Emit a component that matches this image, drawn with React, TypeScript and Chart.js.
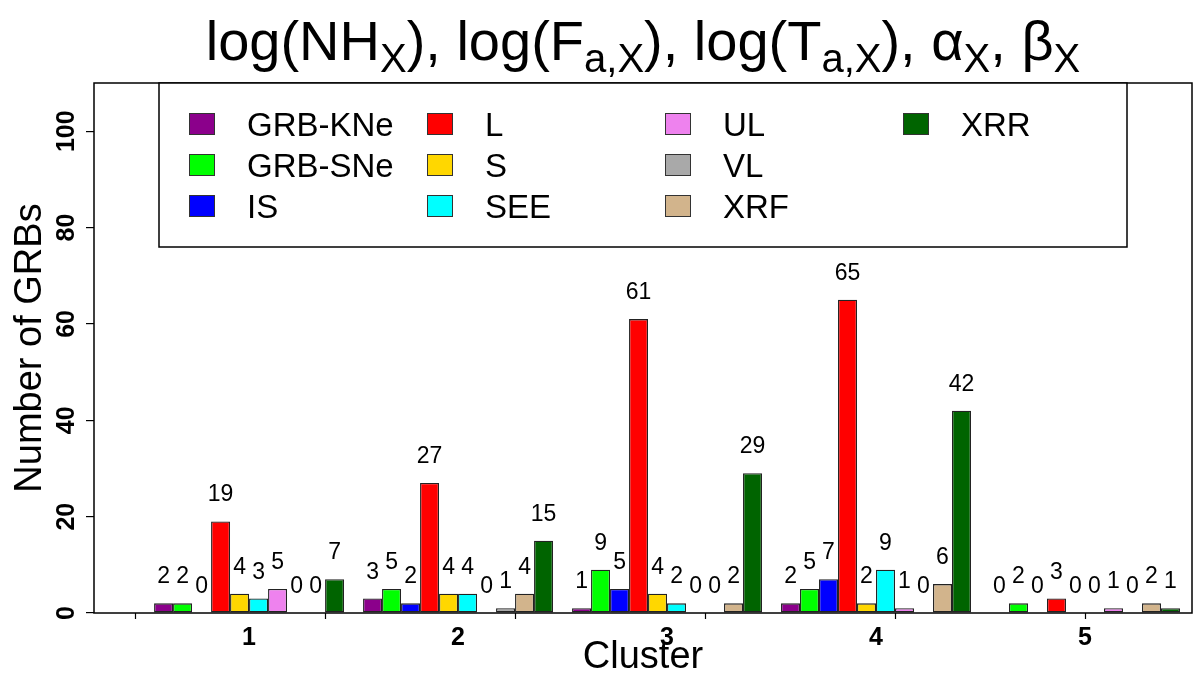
import { useEffect, useRef } from "react";
import { Chart, registerables } from "chart.js";

Chart.register(...registerables);

const FONT = '"Liberation Sans", Arial, Helvetica, sans-serif';

// ---- data ----
const clusters = [1, 2, 3, 4, 5];
const clusterTickLabels = ["1", "2", "3", "4", "5"];
const seriesNames = ["GRB-KNe", "GRB-SNe", "IS", "L", "S", "SEE", "UL", "VL", "XRF", "XRR"];
const seriesColors = ["#8B008B", "#00FF00", "#0000FF", "#FF0000", "#FFD700", "#00FFFF", "#EE82EE", "#A9A9A9", "#D2B48C", "#006400"];

const grbKNe = [2, 3, 1, 2, 0];
const grbSNe = [2, 5, 9, 5, 2];
const isVals = [0, 2, 5, 7, 0];
const lVals = [19, 27, 61, 65, 3];
const sVals = [4, 4, 4, 2, 0];
const seeVals = [3, 4, 2, 9, 0];
const ulVals = [5, 0, 0, 1, 1];
const vlVals = [0, 1, 0, 0, 0];
const xrfVals = [0, 4, 2, 6, 2];
const xrrVals = [7, 15, 29, 42, 1];
const seriesValues = [grbKNe, grbSNe, isVals, lVals, sVals, seeVals, ulVals, vlVals, xrfVals, xrrVals];

const yTicks = [0, 20, 40, 60, 80, 100];
const yMin = 0;
const yMax = 110;
const xMin = 0.258;
const xMax = 5.512;
// R-style axis tick marks in bar units (11 bar units per cluster, cluster 1 centred at 6)
const xTickMarksBarUnits = [0, 10, 20, 30, 40, 50];
const barUnitsPerCluster = 11;
const firstClusterCentreBarUnits = 6;

const titleRuns = [
  { t: "log(NH", sub: false },
  { t: "X", sub: true },
  { t: "), log(F", sub: false },
  { t: "a,X", sub: true },
  { t: "), log(T", sub: false },
  { t: "a,X", sub: true },
  { t: "), \u03B1", sub: false },
  { t: "X", sub: true },
  { t: ", \u03B2", sub: false },
  { t: "X", sub: true },
];

const overlay = {
  id: "overlay",
  afterDraw(chart: any) {
    const ctx = chart.ctx as CanvasRenderingContext2D;
    const area = chart.chartArea;
    const xs = chart.scales.x;
    const ys = chart.scales.y;
    ctx.save();
    ctx.fillStyle = "#000";
    ctx.strokeStyle = "#000";

    // value labels
    ctx.font = `23px ${FONT}`;
    ctx.textAlign = "center";
    ctx.textBaseline = "alphabetic";
    chart.data.datasets.forEach((ds: any, d: number) => {
      const meta = chart.getDatasetMeta(d);
      meta.data.forEach((el: any, i: number) => {
        ctx.fillText(String(ds.data[i].y), el.x, el.y - 20);
      });
    });

    // plot box
    ctx.lineWidth = 1.5;
    ctx.strokeRect(area.left, area.top, area.right - area.left, area.bottom - area.top);

    // x tick marks
    ctx.lineWidth = 1.2;
    xTickMarksBarUnits.forEach((b) => {
      const v = 1 + (b - firstClusterCentreBarUnits) / barUnitsPerCluster;
      const px = Math.round(xs.getPixelForValue(v)) + 0.5;
      ctx.beginPath();
      ctx.moveTo(px, area.bottom);
      ctx.lineTo(px, area.bottom + 6);
      ctx.stroke();
    });

    // x tick labels
    ctx.font = `bold 25px ${FONT}`;
    ctx.textAlign = "center";
    xs.ticks.forEach((t: any, i: number) => {
      ctx.fillText(clusterTickLabels[i], xs.getPixelForValue(t.value), 645);
    });

    // y tick labels (rotated)
    ys.ticks.forEach((t: any) => {
      const py = ys.getPixelForValue(t.value);
      ctx.save();
      ctx.translate(74, py);
      ctx.rotate(-Math.PI / 2);
      ctx.textAlign = "center";
      ctx.fillText(String(t.value), 0, 0);
      ctx.restore();
    });

    // axis titles
    ctx.font = `38px ${FONT}`;
    ctx.textAlign = "center";
    ctx.fillText("Cluster", (area.left + area.right) / 2, 668);
    ctx.save();
    ctx.translate(41, (area.top + area.bottom) / 2);
    ctx.rotate(-Math.PI / 2);
    ctx.fillText("Number of GRBs", 0, 0);
    ctx.restore();

    // title with subscripts
    const mainSize = 56;
    const subSize = 40;
    let total = 0;
    titleRuns.forEach((r) => {
      ctx.font = `${r.sub ? subSize : mainSize}px ${FONT}`;
      total += ctx.measureText(r.t).width;
    });
    let cx = (area.left + area.right) / 2 - total / 2;
    ctx.textAlign = "left";
    titleRuns.forEach((r) => {
      ctx.font = `${r.sub ? subSize : mainSize}px ${FONT}`;
      ctx.fillText(r.t, cx, r.sub ? 72 : 60);
      cx += ctx.measureText(r.t).width;
    });

    // legend
    const lx = 159, ly = area.top, lw = 1127 - 159, lh = 247 - area.top;
    ctx.fillStyle = "#fff";
    ctx.fillRect(lx, ly, lw, lh);
    ctx.lineWidth = 1.5;
    ctx.strokeRect(lx, ly, lw, lh);
    ctx.font = `33px ${FONT}`;
    ctx.textBaseline = "middle";
    ctx.textAlign = "left";
    chart.data.datasets.forEach((ds: any, d: number) => {
      const col = Math.floor(d / 3);
      const row = d % 3;
      const sx = 189 + col * 238;
      const sy = 124 + row * 41;
      ctx.fillStyle = ds.backgroundColor;
      ctx.fillRect(sx, sy - 11, 26, 22);
      ctx.lineWidth = 1;
      ctx.strokeStyle = "#333";
      ctx.strokeRect(sx + 0.5, sy - 10.5, 25, 21);
      ctx.fillStyle = "#000";
      ctx.fillText(ds.label, sx + 58, sy + 3);
    });

    ctx.restore();
  },
};

export default function App() {
  const ref = useRef<HTMLCanvasElement>(null);
  useEffect(() => {
    const datasets = seriesNames.map((name, s) => ({
      label: name,
      data: clusters.map((c, i) => ({ x: c, y: seriesValues[s][i] })),
      backgroundColor: seriesColors[s],
      borderColor: "#222",
      borderWidth: 1.3,
      borderSkipped: false,
      categoryPercentage: 10 / 11,
      barPercentage: 1,
    }));
    const chart = new Chart(ref.current!, {
      type: "bar",
      data: { datasets } as any,
      plugins: [overlay],
      options: {
        animation: false,
        responsive: false,
        layout: { padding: { left: 0, top: 83, right: 8, bottom: 0 } },
        plugins: { legend: { display: false }, title: { display: false }, tooltip: { enabled: false } },
        scales: {
          x: {
            type: "linear",
            min: xMin,
            max: xMax,
            offset: false,
            grid: { display: false },
            border: { display: false },
            ticks: { display: false },
            afterBuildTicks: (s: any) => {
              s.ticks = clusters.map((v) => ({ value: v }));
            },
            afterFit: (s: any) => {
              s.height = 680 - 613;
            },
          },
          y: {
            min: yMin,
            max: yMax,
            grid: { display: true, drawOnChartArea: false, drawTicks: true, tickLength: 8, color: "#000", lineWidth: 1.2 },
            border: { display: false },
            ticks: { display: false },
            afterBuildTicks: (s: any) => {
              s.ticks = yTicks.map((v) => ({ value: v }));
            },
            afterFit: (s: any) => {
              s.width = 94;
            },
          },
        },
      } as any,
    });
    return () => chart.destroy();
  }, []);
  return (
    <div style={{ position: "fixed", left: 0, top: 0, width: 1200, height: 680, background: "#fff" }}>
      <canvas ref={ref} width={1200} height={680} style={{ display: "block" }} />
    </div>
  );
}
